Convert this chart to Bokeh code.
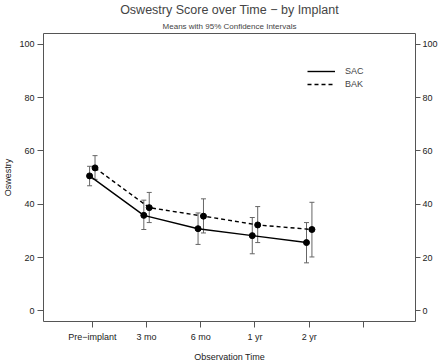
from bokeh.plotting import figure
from bokeh.models import (ColumnDataSource, FixedTicker, LinearAxis, Title,
                          Whisker, TeeHead, Legend, LegendItem, Range1d)
from bokeh.embed import file_html
from bokeh.resources import INLINE

# ---- data ----
categories = ["Pre\u2212implant", "3 mo", "6 mo", "1 yr", "2 yr"]
positions = [1, 2, 3, 4, 5]
sac_mean = [50.6, 35.8, 30.8, 28.2, 25.6]
sac_lower = [46.9, 30.5, 24.9, 21.4, 18.0]
sac_upper = [54.2, 41.5, 36.7, 35.0, 33.1]
bak_mean = [53.6, 38.7, 35.5, 32.2, 30.5]
bak_lower = [49.3, 33.1, 29.2, 25.6, 20.2]
bak_upper = [58.2, 44.4, 42.0, 39.1, 40.7]
y_ticks = [0, 20, 40, 60, 80, 100]
offset = 0.05

FONT = "Liberation Sans"
GRAY = "#555555"
TXT = "#222222"

sac = ColumnDataSource(dict(x=[p - offset for p in positions], y=sac_mean,
                            lo=sac_lower, hi=sac_upper))
bak = ColumnDataSource(dict(x=[p + offset for p in positions], y=bak_mean,
                            lo=bak_lower, hi=bak_upper))

p = figure(width=440, height=364, output_backend="svg", toolbar_location=None,
           x_range=Range1d(0.1, 6.96), y_range=Range1d(-4, 104),
           min_border_left=0, min_border_right=0, min_border_top=0,
           min_border_bottom=0)

p.title.text = "Oswestry Score over Time \u2212 by Implant"
p.title.text_font = FONT
p.title.text_font_size = "12.5px"
p.title.text_font_style = "normal"
p.title.align = "center"
p.title.standoff = 1
p.title.offset = 0
sub = Title(text="Means with 95% Confidence Intervals", text_font=FONT,
            text_font_size="8px", text_font_style="normal", align="center",
            standoff=5)
p.add_layout(sub, "above")

p.grid.visible = False
p.outline_line_color = GRAY
p.outline_line_width = 1

# axes
for ax in [p.xaxis[0], p.yaxis[0]]:
    ax.axis_line_color = None
    ax.major_tick_line_color = GRAY
    ax.minor_tick_line_color = None
    ax.major_tick_in = 0
    ax.major_tick_out = 6
    ax.major_label_text_font = FONT
    ax.major_label_text_font_size = "9px"
    ax.major_label_text_color = TXT
    ax.axis_label_text_font = FONT
    ax.axis_label_text_font_size = "9px"
    ax.axis_label_text_font_style = "normal"
    ax.axis_label_text_color = TXT

p.xaxis.ticker = FixedTicker(ticks=positions + [6])
overrides = {pos: lab for pos, lab in zip(positions, categories)}
overrides[6] = ""
p.xaxis.major_label_overrides = overrides
p.xaxis.axis_label = "Observation Time"
p.xaxis.major_label_standoff = 4
p.xaxis.axis_label_standoff = 7

p.yaxis.ticker = FixedTicker(ticks=y_ticks)
p.yaxis.axis_label = "Oswestry"
p.yaxis.major_label_orientation = "horizontal"
p.yaxis.major_label_standoff = 3
p.yaxis.axis_label_standoff = 3

ry = LinearAxis(ticker=FixedTicker(ticks=y_ticks))
ry.axis_line_color = None
ry.major_tick_line_color = GRAY
ry.minor_tick_line_color = None
ry.major_tick_in = 0
ry.major_tick_out = 5
ry.major_label_text_font = FONT
ry.major_label_text_font_size = "9px"
ry.major_label_text_color = TXT
ry.major_label_standoff = 2
p.add_layout(ry, "right")

# error bars
for src in (sac, bak):
    w = Whisker(source=src, base="x", lower="lo", upper="hi",
                line_color="#666666", line_width=1,
                lower_head=TeeHead(size=5, line_color="#666666", line_width=1),
                upper_head=TeeHead(size=5, line_color="#666666", line_width=1))
    p.add_layout(w)

l1 = p.line("x", "y", source=sac, line_color="black", line_width=1.4)
p.scatter("x", "y", source=sac, size=6, color="black")
l2 = p.line("x", "y", source=bak, line_color="black", line_width=1.4,
            line_dash="4 3")
p.scatter("x", "y", source=bak, size=6, color="black")

legend = Legend(items=[LegendItem(label="SAC", renderers=[l1]),
                       LegendItem(label="BAK", renderers=[l2])],
                location=(260, 228), border_line_alpha=0,
                background_fill_alpha=0, glyph_width=28, glyph_height=10,
                label_text_font=FONT, label_text_font_size="9px",
                label_height=10, spacing=3, padding=4, margin=0,
                label_standoff=10)
p.add_layout(legend)

open("out.html", "w").write(file_html(p, INLINE))
